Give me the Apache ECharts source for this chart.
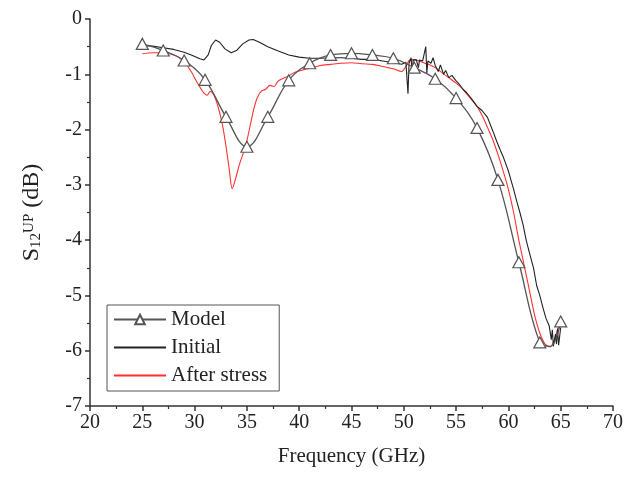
<!DOCTYPE html>
<html>
<head>
<meta charset="utf-8">
<script src="https://cdn.jsdelivr.net/npm/echarts@6/dist/echarts.min.js"></script>
<style>html,body{margin:0;padding:0;background:#fff}#c{width:635px;height:477px}</style>
</head>
<body>
<div id="c"></div>
<script>
// Model (markers every 2 GHz, plus one unmarked point at 64 GHz)
const modelX = [25,27,29,31,33,35,37,39,41,43,45,47,49,51,53,55,57,59,61,63,64,65];
const modelY = [-0.45,-0.57,-0.75,-1.10,-1.77,-2.31,-1.77,-1.11,-0.80,-0.65,-0.62,-0.65,-0.71,-0.88,-1.08,-1.43,-1.97,-2.91,-4.40,-5.85,-5.92,-5.47];
const modelMarked = [1,1,1,1,1,1,1,1,1,1,1,1,1,1,1,1,1,1,1,1,0,1];

// Initial measurement
const initX = [25,26,27,28,29,29.8,30.5,30.9,31.3,31.6,32.0,32.4,32.9,33.5,34.0,34.6,35.2,35.6,36.2,37,38,39,40,41,42,43,44,45,46,47,48,49,49.8,50.0,50.2,50.4,50.5,50.7,50.8,50.9,51.2,51.4,51.5,51.8,52.1,52.2,52.3,52.6,52.8,53.0,53.3,53.5,53.8,54.0,54.3,54.6,55.0,55.3,55.7,56.0,56.5,57.0,57.5,58.0,58.5,58.9,59.2,59.5,60.0,60.5,60.8,61.1,61.4,61.7,62.0,62.4,62.7,63.0,63.3,63.6,63.9,64.1,64.2,64.3,64.5,64.6,64.7,64.8,65.0];
const initY = [-0.48,-0.49,-0.52,-0.55,-0.60,-0.66,-0.72,-0.74,-0.65,-0.48,-0.38,-0.42,-0.54,-0.61,-0.57,-0.45,-0.38,-0.37,-0.42,-0.50,-0.58,-0.65,-0.69,-0.71,-0.71,-0.70,-0.70,-0.71,-0.73,-0.73,-0.76,-0.79,-0.82,-0.80,-0.78,-1.35,-0.80,-0.70,-0.98,-0.74,-0.74,-0.88,-0.74,-0.76,-0.50,-0.98,-0.76,-0.80,-0.70,-0.84,-0.95,-0.83,-1.00,-0.93,-1.06,-1.02,-1.12,-1.18,-1.28,-1.33,-1.45,-1.58,-1.66,-1.78,-2.02,-2.22,-2.36,-2.49,-2.75,-3.08,-3.30,-3.50,-3.72,-4.00,-4.22,-4.50,-4.82,-5.00,-5.22,-5.42,-5.55,-5.80,-5.62,-5.92,-5.70,-5.88,-5.60,-5.90,-5.58];

// After stress measurement
const stressX = [25,26,27,28,28.6,29.2,29.7,30.1,30.5,30.9,31.2,31.5,31.8,32.1,32.4,32.7,33.0,33.3,33.6,33.9,34.3,34.7,35.0,35.4,35.7,36.0,36.4,36.8,37.2,37.6,38.0,38.5,39.0,39.5,40,41,42,43,44,45,46,47,48,49,49.8,50.2,50.6,51.0,51.5,52.0,52.5,53.0,54.0,55.0,55.5,56.0,57.0,57.5,58.0,58.5,59.0,59.5,60.0,60.5,61.0,61.5,62.0,62.5,63.0,63.5,64.0,64.4,64.7,65.0];
const stressY = [-0.63,-0.61,-0.61,-0.65,-0.71,-0.82,-0.96,-1.10,-1.23,-1.34,-1.38,-1.31,-1.36,-1.50,-1.70,-1.95,-2.30,-2.70,-3.07,-2.90,-2.62,-2.40,-2.20,-1.85,-1.60,-1.42,-1.30,-1.27,-1.20,-1.22,-1.12,-1.07,-1.03,-0.97,-0.94,-0.89,-0.84,-0.82,-0.80,-0.79,-0.81,-0.82,-0.86,-0.90,-0.95,-0.86,-0.74,-0.74,-0.76,-0.80,-0.83,-0.88,-1.02,-1.16,-1.24,-1.35,-1.58,-1.75,-1.96,-2.18,-2.45,-2.75,-3.08,-3.50,-4.00,-4.45,-4.90,-5.35,-5.68,-5.88,-5.93,-5.80,-5.62,-5.48];

const xTicks = [20,25,30,35,40,45,50,55,60,65,70];
const yTicks = [0,-1,-2,-3,-4,-5,-6,-7];

const serif = '"Liberation Serif","DejaVu Serif",serif';
const zip = (xs, ys) => xs.map((x, i) => [x, ys[i]]);

const modelData = modelX.map((x, i) => modelMarked[i]
  ? { value: [x, modelY[i]] }
  : { value: [x, modelY[i]], symbol: 'none' });

const chart = echarts.init(document.getElementById('c'), null, { renderer: 'canvas' });
chart.setOption({
  animation: false,
  backgroundColor: '#fff',
  grid: { left: 90, right: 22, top: 19, bottom: 71, containLabel: false },
  legend: {
    orient: 'vertical',
    left: 107, top: 305,
    padding: [4, 12, 5, 6],
    itemGap: 7,
    itemWidth: 52, itemHeight: 12,
    borderColor: '#555', borderWidth: 1,
    textStyle: { fontFamily: serif, fontSize: 21, color: '#222' },
    data: [
      { name: 'Model' },
      { name: 'Initial', itemStyle: { opacity: 0 } },
      { name: 'After stress', itemStyle: { opacity: 0 } }
    ]
  },
  xAxis: {
    type: 'value', min: 20, max: 70, interval: 5,
    name: 'Frequency (GHz)', nameLocation: 'middle', nameGap: 40,
    nameTextStyle: { fontFamily: serif, fontSize: 21, color: '#222' },
    axisLine: { show: true, onZero: false, lineStyle: { color: '#333', width: 1.5 } },
    axisTick: { show: true, inside: false, length: 5, lineStyle: { color: '#333', width: 1.5 } },
    minorTick: { show: true, splitNumber: 2, length: 3, lineStyle: { color: '#333', width: 1.2 } },
    axisLabel: { fontFamily: serif, fontSize: 20, color: '#222', margin: 7,
      formatter: v => xTicks.includes(v) ? String(v) : '' },
    splitLine: { show: false }
  },
  yAxis: {
    type: 'value', min: -7, max: 0, interval: 1,
    name: '{s|S}{sub|12}{sup|UP}{s| (dB)}', nameLocation: 'middle', nameGap: 46, nameRotate: 90,
    nameTextStyle: {
      fontFamily: serif, color: '#222',
      rich: {
        s: { fontFamily: serif, fontSize: 24, color: '#222' },
        sub: { fontFamily: serif, fontSize: 15, color: '#222', padding: [8, 0, 0, 0] },
        sup: { fontFamily: serif, fontSize: 15, color: '#222', padding: [0, 0, 6, 0] }
      }
    },
    axisLine: { show: true, onZero: false, lineStyle: { color: '#333', width: 1.5 } },
    axisTick: { show: true, inside: false, length: 5, lineStyle: { color: '#333', width: 1.5 } },
    minorTick: { show: true, splitNumber: 2, length: 3, lineStyle: { color: '#333', width: 1.2 } },
    axisLabel: { fontFamily: serif, fontSize: 20, color: '#222', margin: 8,
      formatter: v => yTicks.includes(v) ? String(v) : '' },
    splitLine: { show: false }
  },
  series: [
    {
      name: 'Model', type: 'line', data: modelData, smooth: 0.4,
      symbol: 'triangle', symbolSize: [12, 11], showAllSymbol: true,
      itemStyle: { color: '#fff', borderColor: '#555', borderWidth: 1.2 },
      lineStyle: { color: '#555', width: 1.3 }, z: 3
    },
    {
      name: 'Initial', type: 'line', data: zip(initX, initY), smooth: false,
      symbol: 'none', itemStyle: { color: '#222' },
      lineStyle: { color: '#222', width: 1.1 }, z: 2
    },
    {
      name: 'After stress', type: 'line', data: zip(stressX, stressY), smooth: 0.3,
      symbol: 'none', itemStyle: { color: '#ff3030' },
      lineStyle: { color: '#ff3030', width: 1.1 }, z: 1
    }
  ]
});
</script>
</body>
</html>
